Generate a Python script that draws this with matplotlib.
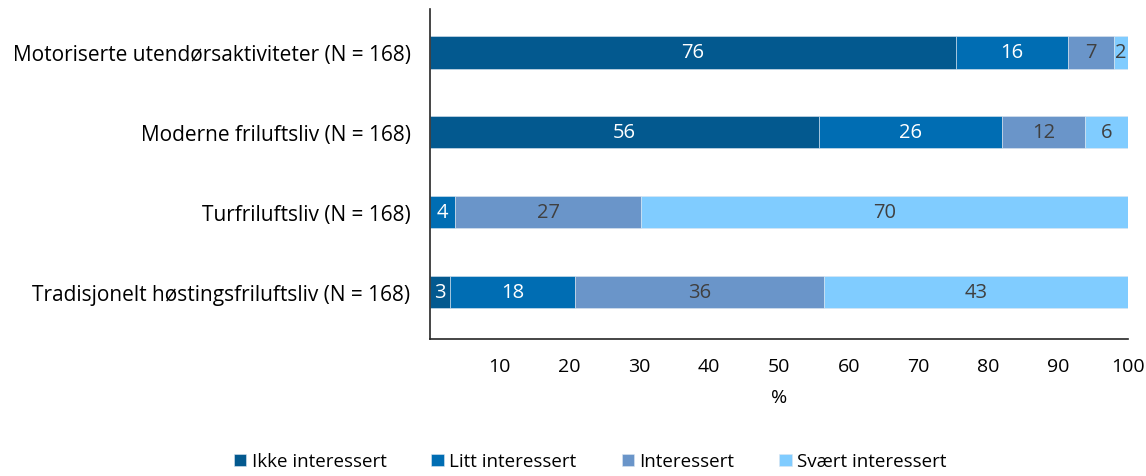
import numpy as np
import matplotlib.pyplot as plt

# Data (shares in %) and printed labels
Categories = ["Motoriserte utendørsaktiviteter (N = 168)", "Moderne friluftsliv (N = 168)",
              "Turfriluftsliv (N = 168)", "Tradisjonelt høstingsfriluftsliv (N = 168)"]
Series = ["Ikke interessert", "Litt interessert", "Interessert", "Svært interessert"]
Ikke = [75.4, 55.7, 0.0, 2.9]
Litt = [16.0, 26.3, 3.6, 17.9]
Interessert = [6.6, 11.9, 26.7, 35.7]
Svaert = [2.0, 6.1, 69.8, 43.5]
Ikke_lab = ["76", "56", "", "3"]
Litt_lab = ["16", "26", "4", "18"]
Interessert_lab = ["7", "12", "27", "36"]
Svaert_lab = ["2", "6", "70", "43"]
Ticks = [10, 20, 30, 40, 50, 60, 70, 80, 90, 100]

plt.rcParams['font.family'] = ['Open Sans', 'DejaVu Sans']

colors = ["#03598f", "#006db3", "#6a95c9", "#80ccff"]
txt_colors = ["white", "white", "#404040", "#404040"]
values = [Ikke, Litt, Interessert, Svaert]
labels = [Ikke_lab, Litt_lab, Interessert_lab, Svaert_lab]

fig = plt.figure(figsize=(11.46, 4.77), dpi=100)
ax = fig.add_axes([0.3752, 0.287, 0.609, 0.692])

y = np.arange(len(Categories))
left = np.zeros(len(Categories))
for i in range(len(Series)):
    bars = ax.barh(y, values[i], left=left, height=0.41, color=colors[i], label=Series[i],
                   edgecolor="#dce6f0", linewidth=0.4)
    ax.bar_label(bars, labels=labels[i], label_type="center", color=txt_colors[i], fontsize=14.5)
    left = left + np.array(values[i])

ax.set_xlim(0, 100)
ax.set_ylim(3.59, -0.54)
ax.set_yticks(y)
ax.set_yticklabels(Categories, fontsize=15)
ax.set_xticks(Ticks)
ax.set_xticklabels([str(t) for t in Ticks], fontsize=14)
ax.tick_params(axis="both", length=0)
ax.tick_params(axis="x", pad=13)
ax.tick_params(axis="y", pad=14)
ax.set_xlabel("%", fontsize=14, labelpad=9)
ax.spines["top"].set_visible(False)
ax.spines["right"].set_visible(False)
ax.spines["left"].set_color("#262626")
ax.spines["bottom"].set_color("#262626")
ax.spines["left"].set_linewidth(1.2)
ax.spines["bottom"].set_linewidth(1.2)

fig.legend(loc="lower center", bbox_to_anchor=(0.515, -0.012), ncol=4, frameon=False, borderpad=0.1,
           fontsize=13.5, handlelength=0.65, handleheight=0.65, handletextpad=0.3, columnspacing=2.4)

fig.savefig("out.png", dpi=100)
